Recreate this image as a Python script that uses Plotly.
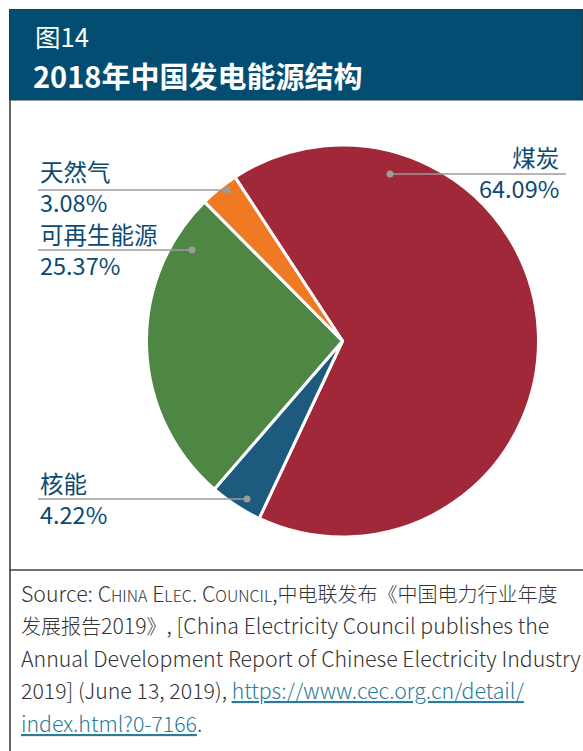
import plotly.graph_objects as go

W, H = 583, 751

# ---- data ----
categories = ["煤炭", "核能", "可再生能源", "天然气"]
shares = [64.09, 4.22, 25.37, 3.08]
value_labels = ["64.09%", "4.22%", "25.37%", "3.08%"]
colors = ["#a02838", "#1d5a7e", "#4d8743", "#f07a24"]

title_small = "图14"
title_main = "2018年中国发电能源结构"

def px(x):
    return x / W

def py(y):
    return 1 - y / H

FONT = "Noto Sans CJK SC, Noto Sans, sans-serif"
LABEL_COLOR = "#0b4b71"
LEADER = "#9b9b9b"

fig = go.Figure()

cx, cy, r = 342.5, 341, 196
fig.add_trace(go.Pie(
    labels=categories,
    values=shares,
    sort=False,
    direction="clockwise",
    rotation=-33.3,
    marker=dict(colors=colors, line=dict(color="white", width=3)),
    textinfo="none",
    hoverinfo="label+text",
    hovertext=value_labels,
    showlegend=False,
    domain=dict(x=[px(cx - r), px(cx + r)], y=[py(cy + r), py(cy - r)]),
))

shapes = []
annotations = []

# header band
shapes.append(dict(type="rect", xref="paper", yref="paper",
                   x0=px(9.5), x1=1.0, y0=py(100), y1=py(9.5),
                   fillcolor="#024d71", line=dict(color="#2a3a44", width=1), layer="below"))
# left border
shapes.append(dict(type="line", xref="paper", yref="paper",
                   x0=px(10), x1=px(10), y0=py(100), y1=0,
                   line=dict(color="#333333", width=1.5)))
# separator above source
shapes.append(dict(type="line", xref="paper", yref="paper",
                   x0=px(10), x1=1.0, y0=py(570), y1=py(570),
                   line=dict(color="#444444", width=1.5)))

annotations.append(dict(text=title_small, x=px(33), y=py(36), xref="paper", yref="paper",
                        xanchor="left", yanchor="middle", showarrow=False,
                        font=dict(family=FONT, size=25.5, color="white")))
annotations.append(dict(text="<b>" + title_main + "</b>", x=px(31), y=py(75), xref="paper", yref="paper",
                        xanchor="left", yanchor="middle", showarrow=False,
                        font=dict(family=FONT, size=29, color="white")))

# label layout: (index, text x, align, block centre y, line y, line x-end(text side), dot x)
label_layout = [
    (0, 561, "right", 173, 174, 566, 390),
    (3, 38, "left", 187, 190, 38, 227),
    (2, 38, "left", 250, 250, 38, 192),
    (1, 38, "left", 498, 499, 38, 247),
]
for idx, tx, al, yc, yl, xl, xd in label_layout:
    anchor = "right" if al == "right" else "left"
    annotations.append(dict(text=categories[idx] + "<br>" + value_labels[idx],
                            x=px(tx), y=py(yc), xref="paper", yref="paper",
                            xanchor=anchor, yanchor="middle", align=al, showarrow=False,
                            font=dict(family=FONT, size=23.5, color=LABEL_COLOR)))
    shapes.append(dict(type="line", xref="paper", yref="paper",
                       x0=px(xl), x1=px(xd), y0=py(yl), y1=py(yl),
                       line=dict(color=LEADER, width=1.5)))
    shapes.append(dict(type="circle", xref="paper", yref="paper",
                       x0=px(xd - 3.5), x1=px(xd + 3.5), y0=py(yl + 3.5), y1=py(yl - 3.5),
                       fillcolor=LEADER, line=dict(width=0)))

sc = "<span style='font-size:16px'>"
cj = "<span style='font-size:20px'>"
LINK = "color:#2b7b9b;text-decoration:underline"
source_lines = [
    "Source: C" + sc + "HINA</span> E" + sc + "LEC</span>. C" + sc + "OUNCIL</span>," + cj + "中电联发布《中国电力行业年度</span>",
    cj + "发展报告</span>2019" + cj + "》</span>, [China Electricity Council publishes the",
    "Annual Development Report of Chinese Electricity Industry",
    "2019] (June 13, 2019), <span style='" + LINK + "'>https://www.cec.org.cn/detail/</span>",
    "<span style='" + LINK + "'>index.html?0-7166</span>.",
]
for i, line in enumerate(source_lines):
    annotations.append(dict(text=line, x=px(19), y=py(592 + i * 32.5), xref="paper", yref="paper",
                            xanchor="left", yanchor="middle", showarrow=False,
                            font=dict(family=FONT, size=21.3, color="#333333", weight=300)))

fig.update_layout(
    width=W, height=H,
    margin=dict(l=0, r=0, t=0, b=0),
    paper_bgcolor="white", plot_bgcolor="white",
    shapes=shapes, annotations=annotations,
    font=dict(family=FONT),
)

fig.write_html("out.html")
